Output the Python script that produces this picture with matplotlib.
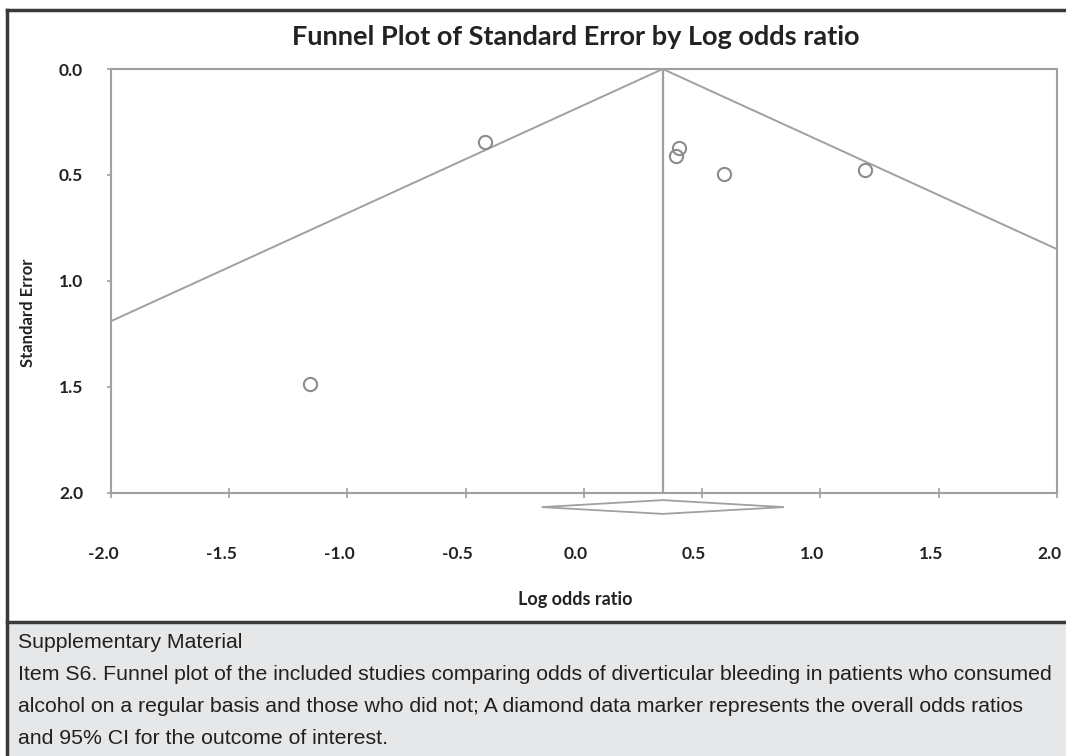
import numpy as np
import matplotlib
matplotlib.use("Agg")
from matplotlib import pyplot as plt
from matplotlib import transforms
from matplotlib.patches import Polygon, Rectangle
from matplotlib.lines import Line2D

# study points
log_or = [-0.42, 0.40, 0.39, 0.59, 1.19, -1.16]
std_err = [0.345, 0.373, 0.411, 0.496, 0.478, 1.488]

# pooled estimate and 95% CI (diamond)
pooled = 0.333
ci_low = -0.179
ci_high = 0.846

x_ticks = [-2.0, -1.5, -1.0, -0.5, 0.0, 0.5, 1.0, 1.5, 2.0]
y_ticks = [0.0, 0.5, 1.0, 1.5, 2.0]

title = "Funnel Plot of Standard Error by Log odds ratio"
x_label = "Log odds ratio"
y_label = "Standard Error"
caption = [
    "Supplementary Material",
    "Item S6. Funnel plot of the included studies comparing odds of diverticular bleeding in patients who consumed",
    "alcohol on a regular basis and those who did not; A diamond data marker represents the overall odds ratios",
    "and 95% CI for the outcome of interest.",
]

W, H = 1066, 756
fig = plt.figure(figsize=(W / 100, H / 100), dpi=100)
fig.patch.set_facecolor("white")

def fx(px):
    return px / W

def fy(py):
    return 1 - py / H

# caption box + frame
fig.patches.append(Rectangle((fx(7), 0), 1 - fx(7), fy(622), transform=fig.transFigure,
                             facecolor="#e6e7e8", edgecolor="none", zorder=0))
dark = "#3a3a3a"
fig.lines.append(Line2D([fx(7), 1], [fy(10), fy(10)], transform=fig.transFigure, color=dark, lw=2.5))
fig.lines.append(Line2D([fx(7), 1], [fy(622), fy(622)], transform=fig.transFigure, color=dark, lw=2.5))
fig.lines.append(Line2D([fx(7), fx(7)], [0, fy(10)], transform=fig.transFigure, color=dark, lw=2.5))

# caption: shrink the font so the longest line fits the box width
cap_font = ["Liberation Sans", "DejaVu Sans"]
cap_y = [643, 674, 707, 738]
renderer = fig.canvas.get_renderer()
probe = fig.text(0, 0, caption[1], family=cap_font, fontsize=15)
w15 = probe.get_window_extent(renderer).width
probe.remove()
cap_size = 15 * 1042 / w15
for txt, yy in zip(caption, cap_y):
    fig.text(fx(18), fy(yy), txt, family=cap_font, fontsize=cap_size, color="#231f20",
             ha="left", va="center")

# plot area
ax = fig.add_axes([fx(111), fy(492.7), fx(1057) - fx(111), fy(69) - fy(492.7)])
ax.set_xlim(-2.0, 2.0)
ax.set_ylim(2.0, 0.0)

grey = "#a0a0a0"
se_line = np.array([0.0, 2.0])
ax.plot(pooled - 1.96 * se_line, se_line, color=grey, lw=1.4)
ax.plot(pooled + 1.96 * se_line, se_line, color=grey, lw=1.4)
ax.plot([pooled, pooled], [0, 2], color=grey, lw=1.6)

ax.plot(log_or, std_err, "o", ms=9.5, mfc="none", mec="#8c8c8c", mew=1.5)

diamond = Polygon([[ci_low, 2.068], [pooled, 2.035], [ci_high, 2.068], [pooled, 2.10]],
                  closed=True, facecolor="white", edgecolor=grey, lw=1.3, clip_on=False)
ax.add_patch(diamond)

for s in ax.spines.values():
    s.set_color(grey)
    s.set_linewidth(1.5)

bold_font = ["Lato", "DejaVu Sans"]
ax.set_xticks(x_ticks)
ax.set_yticks(y_ticks)
ax.set_xticklabels([f"{v:.1f}" for v in x_ticks], family=bold_font, fontweight="bold", fontsize=12.5)
ax.set_yticklabels([f"{v:.1f}" for v in y_ticks], family=bold_font, fontweight="bold", fontsize=12.5)
ax.tick_params(axis="x", direction="inout", length=7, width=1.2, color=grey, pad=35, labelcolor="#222222")
ax.tick_params(axis="y", direction="out", length=3, width=1.2, color=grey, pad=17, labelcolor="#222222")

# x labels sit a little left of their ticks in the original
shift = transforms.ScaledTranslation(-8 / 100, 0, fig.dpi_scale_trans)
for lab in ax.get_xticklabels():
    lab.set_transform(lab.get_transform() + shift)

fig.text(fx(575), fy(600), x_label, family=bold_font, fontweight="bold", fontsize=13,
         ha="center", va="center", color="#222222")
fig.text(fx(28), fy(313), y_label, family=bold_font, fontweight="bold", fontsize=12,
         rotation=90, ha="center", va="center", color="#222222")
fig.text(fx(576), fy(37), title, family=bold_font, fontweight="bold", fontsize=19.5,
         ha="center", va="center", color="#222222")

fig.savefig("out.png", dpi=100)
